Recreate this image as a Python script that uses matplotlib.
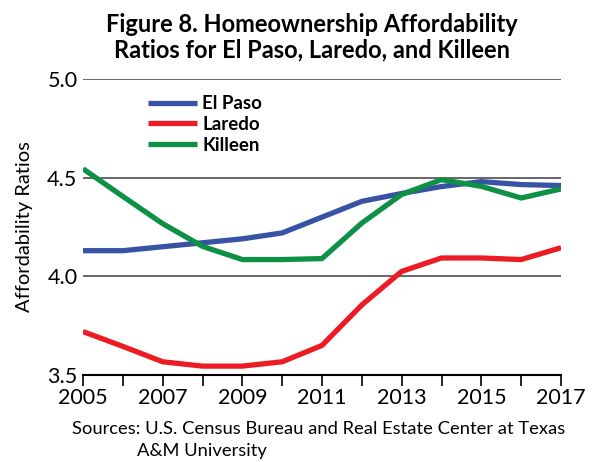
import matplotlib.pyplot as plt

years = list(range(2005, 2018))
el_paso = [4.13, 4.13, 4.15, 4.17, 4.19, 4.22, 4.30, 4.38, 4.42, 4.455, 4.48, 4.465, 4.46]
laredo = [3.72, 3.645, 3.567, 3.545, 3.545, 3.567, 3.65, 3.855, 4.025, 4.093, 4.093, 4.085, 4.145]
killeen = [4.545, 4.405, 4.267, 4.152, 4.085, 4.085, 4.09, 4.27, 4.415, 4.49, 4.456, 4.397, 4.443]
xtick_labels = ['2005', '2007', '2009', '2011', '2013', '2015', '2017']

plt.rcParams['font.family'] = ['Lato', 'DejaVu Sans']

fig = plt.figure(figsize=(5.92, 4.62), dpi=100)
ax = fig.add_axes([83 / 592, 1 - 375 / 462, (561 - 83) / 592, (375 - 79) / 462])

ax.plot(years, el_paso, color='#3953a4', lw=3.8, label='El Paso', solid_capstyle='butt')
ax.plot(years, laredo, color='#ed1c24', lw=3.8, label='Laredo', solid_capstyle='butt')
ax.plot(years, killeen, color='#0e9146', lw=3.8, label='Killeen', solid_capstyle='butt')

ax.set_xlim(2005, 2017)
ax.set_ylim(3.5, 5.0)
ax.set_yticks([3.5, 4.0, 4.5, 5.0])
ax.set_yticklabels(['3.5', '4.0', '4.5', '5.0'], fontsize=15.5)
ax.set_xticks(years)
ax.set_xticklabels([y if str(y) in xtick_labels else '' for y in years], fontsize=15.5)
ax.tick_params(axis='y', length=0, pad=4)
ax.tick_params(axis='x', length=8, width=1.2, direction='out', pad=1)
for s in ['top', 'right', 'left']:
    ax.spines[s].set_visible(False)
ax.spines['bottom'].set_linewidth(1.5)
for v in [4.0, 4.5, 5.0]:
    ax.axhline(v, color='#666666', lw=1.4, zorder=0)

ax.set_ylabel('Affordability Ratios', fontsize=14.5, labelpad=10)

leg = ax.legend(loc='upper left', bbox_to_anchor=(0.136, 0.945), frameon=False,
                handlelength=2.6, handletextpad=0.3, labelspacing=0.2,
                borderaxespad=0, borderpad=0,
                prop={'weight': 'bold', 'size': 13.5})

fig.text(0.527, 0.972, 'Figure 8. Homeownership Affordability\nRatios for El Paso, Laredo, and Killeen',
         ha='center', va='top', fontsize=17, fontweight='bold', linespacing=1.15)
fig.text(72 / 592, 1 - 429 / 462, 'Sources: U.S. Census Bureau and Real Estate Center at Texas',
         ha='left', va='center', fontsize=13.2)
fig.text(137 / 592, 1 - 451 / 462, 'A&M University', ha='left', va='center', fontsize=13.2)

fig.savefig('out.png', dpi=100)
